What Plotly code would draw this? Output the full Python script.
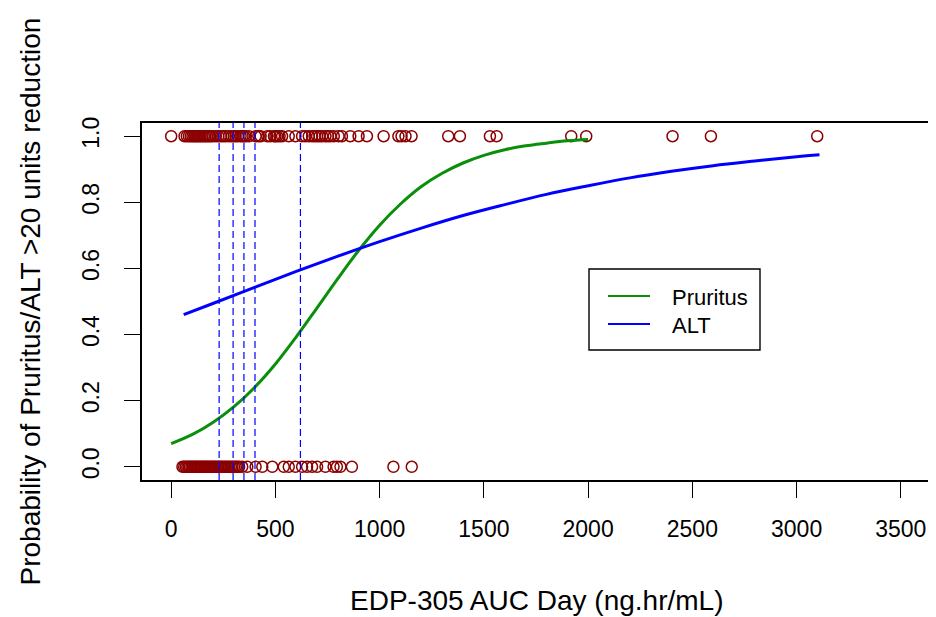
import plotly.graph_objects as go

# ---------------- data ----------------
# observed responders (y = 1) and non-responders (y = 0), EDP-305 AUC values
auc_resp = [0, 64, 75, 85, 94, 102, 110, 118, 125, 133, 141, 149, 157, 165, 173, 182, 190, 200,
            214, 226, 238, 250, 262, 277, 290, 300, 309, 320, 333, 342, 349, 358,
            373, 405, 418, 429, 461, 475, 493, 500, 508, 520, 532, 564, 596, 628, 644, 660,
            676, 688, 700, 712, 724, 740, 752, 764, 780, 803, 819, 859, 899, 939,
            1019, 1090, 1105, 1124, 1153, 1329, 1385, 1529, 1561, 1919, 1991, 2405, 2589, 3099]
auc_nonresp = [54, 62, 70, 77, 84, 90, 97, 103, 110, 116, 122, 128, 135, 141, 148, 154, 160, 167,
               173, 180, 186, 193, 199, 206, 213, 220, 227, 234, 241, 248, 255, 262, 270, 278,
               286, 294, 302, 310, 318, 326, 341, 365, 405, 437, 485, 540, 564, 596, 628, 652,
               676, 700, 740, 779, 795, 812, 867, 1066, 1154]

# fitted probability curves
pru_x = [0, 100, 200, 300, 400, 500, 600, 700, 800, 900, 1000, 1100, 1200, 1300, 1400,
         1500, 1600, 1700, 1800, 1900, 2000]
pru_y = [0.070, 0.097, 0.134, 0.181, 0.240, 0.311, 0.393, 0.481, 0.570, 0.655, 0.731,
         0.795, 0.848, 0.888, 0.919, 0.942, 0.959, 0.971, 0.979, 0.986, 0.990]

alt_x = [60, 200, 400, 600, 800, 1000, 1200, 1400, 1600, 1800, 2000, 2200, 2400, 2600,
         2800, 3000, 3110]
alt_y = [0.460, 0.494, 0.543, 0.591, 0.637, 0.681, 0.722, 0.760, 0.793, 0.824, 0.850,
         0.874, 0.894, 0.911, 0.925, 0.938, 0.944]

# reference AUC values marked with dashed lines
vlines = [230, 297, 349, 402, 620]

x_ticks = [0, 500, 1000, 1500, 2000, 2500, 3000, 3500]
y_ticks = [0.0, 0.2, 0.4, 0.6, 0.8, 1.0]
y_ticktext = ["0.0", "0.2", "0.4", "0.6", "0.8", "1.0"]

legend_names = ["Pruritus", "ALT"]

# ---------------- figure ----------------
FONT = "Liberation Sans, Arial, sans-serif"
DARKRED = "#8B0000"
GREEN = "#0A8F0A"
BLUE = "#0000FF"
colors = [GREEN, BLUE]

# plot area in page pixels (page is offset by the 8px body margin)
PL, PR, PT, PB = 142, 930, 123, 480
PW, PH = PR - PL, PB - PT


def px(xp):
    return (xp - PL) / PW


def py(yp):
    return (PB - yp) / PH


fig = go.Figure()

fig.add_trace(go.Scatter(x=auc_resp, y=[1] * len(auc_resp), mode="markers",
                         marker=dict(symbol="circle-open", size=11, color=DARKRED,
                                     line=dict(width=1.5, color=DARKRED)),
                         showlegend=False, hoverinfo="x"))
fig.add_trace(go.Scatter(x=auc_nonresp, y=[0] * len(auc_nonresp), mode="markers",
                         marker=dict(symbol="circle-open", size=11, color=DARKRED,
                                     line=dict(width=1.5, color=DARKRED)),
                         showlegend=False, hoverinfo="x"))

fig.add_trace(go.Scatter(x=pru_x, y=pru_y, mode="lines", name=legend_names[0],
                         line=dict(color=GREEN, width=3, shape="spline"), showlegend=False))
fig.add_trace(go.Scatter(x=alt_x, y=alt_y, mode="lines", name=legend_names[1],
                         line=dict(color=BLUE, width=3, shape="spline"), showlegend=False))

for v in vlines:
    fig.add_vline(x=v, line=dict(color=BLUE, width=1.2, dash="7px,4px"), layer="above")

# R-style legend box with line keys
fig.add_shape(type="rect", xref="paper", yref="paper",
              x0=px(589), x1=px(760), y0=py(350), y1=py(269),
              line=dict(color="black", width=1.4), fillcolor="rgba(0,0,0,0)")
annotations = []
for i, (name, col) in enumerate(zip(legend_names, colors)):
    yk = 296 + 28 * i
    fig.add_shape(type="line", xref="paper", yref="paper",
                  x0=px(608), x1=px(650), y0=py(yk), y1=py(yk),
                  line=dict(color=col, width=2))
    annotations.append(dict(text=name, xref="paper", yref="paper", x=px(670), y=py(yk + 1),
                            xanchor="left", yanchor="middle", showarrow=False,
                            font=dict(size=22, family=FONT, color="black")))

annotations += [
    dict(text="EDP-305 AUC Day (ng.hr/mL)", xref="paper", yref="paper", x=0.5, y=0,
         xanchor="center", yanchor="middle", yshift=-(600 - PB), showarrow=False,
         font=dict(size=28, family=FONT, color="black")),
    dict(text="Probability of Pruritus/ALT >20 units reduction", xref="paper", yref="paper",
         x=0, y=0.5, xanchor="center", yanchor="middle", xshift=-(PL - 30), textangle=-90,
         showarrow=False, font=dict(size=28, family=FONT, color="black")),
]

OFF = 8
fig.update_layout(
    width=936 - OFF, height=617 - OFF,
    margin=dict(l=PL - OFF, r=936 - PR, t=PT - OFF, b=617 - PB, autoexpand=False),
    paper_bgcolor="white", plot_bgcolor="white",
    font=dict(family=FONT, color="black"),
    showlegend=False,
    xaxis=dict(range=[-140, 3640], tickmode="array", tickvals=x_ticks,
               ticks="outside", ticklen=16, tickwidth=1.3, tickcolor="black",
               showline=True, mirror=True, linecolor="black", linewidth=1.8,
               showgrid=False, zeroline=False,
               tickfont=dict(size=23, family=FONT, color="black"),
               ticklabelstandoff=11),
    yaxis=dict(range=[-0.04, 1.04], tickmode="array", tickvals=y_ticks, ticktext=y_ticktext,
               ticks="outside", ticklen=16, tickwidth=1.3, tickcolor="black",
               showline=True, mirror=True, linecolor="black", linewidth=1.8,
               showgrid=False, zeroline=False, tickangle=-90,
               tickfont=dict(size=23, family=FONT, color="black"),
               ticklabelstandoff=16),
    annotations=annotations,
)

fig.write_html("out.html")
